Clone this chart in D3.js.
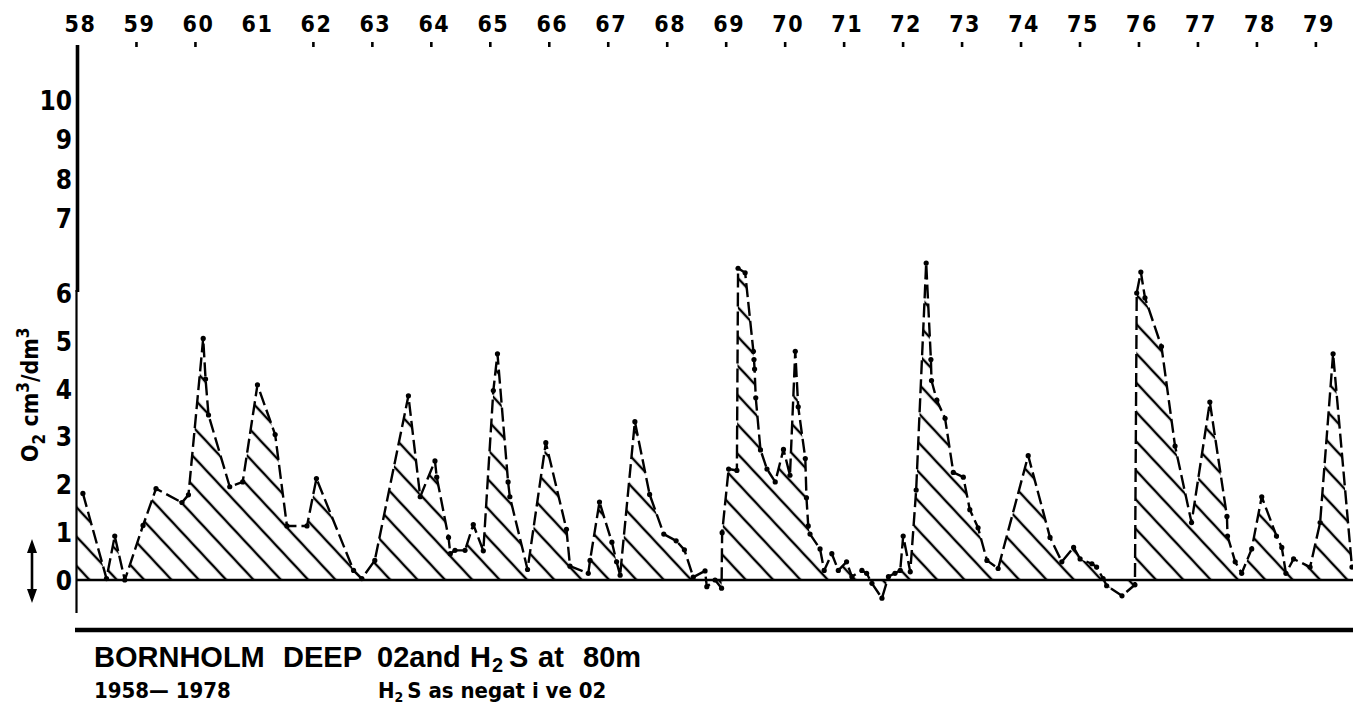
<!DOCTYPE html>
<html>
<head>
<meta charset="utf-8">
<script src="https://cdn.jsdelivr.net/npm/d3@7"></script>
<style>
  html, body { margin: 0; padding: 0; background: #fff; }
  svg { display: block; }
</style>
</head>
<body>
<svg id="chart" width="1353" height="707"></svg>
<script>
// Sampling times (decimal years) of the 80 m observations
const years = [
  1958.10, 1958.50, 1958.64, 1958.81, 1959.12, 1959.34, 1959.78, 1959.89,
  1960.14, 1960.18, 1960.23, 1960.59, 1960.81, 1961.06, 1961.36, 1961.56,
  1961.90, 1962.06, 1962.69, 1962.83, 1963.05, 1963.62, 1963.82, 1964.07,
  1964.10, 1964.30, 1964.33, 1964.41, 1964.58, 1964.72, 1964.89, 1965.06,
  1965.13, 1965.31, 1965.34, 1965.64, 1965.95, 1966.30, 1966.36, 1966.67,
  1966.70, 1966.86, 1967.07, 1967.15, 1967.21, 1967.46, 1967.71, 1967.95,
  1968.16, 1968.30, 1968.45, 1968.65, 1968.68, 1968.82, 1968.93, 1968.94,
  1969.05, 1969.19, 1969.21, 1969.33, 1969.47, 1969.48, 1969.49, 1969.51,
  1969.59, 1969.70, 1969.84, 1969.98, 1970.09, 1970.18, 1970.23, 1970.35,
  1970.37, 1970.40, 1970.43, 1970.60, 1970.67, 1970.80, 1970.91, 1971.05,
  1971.14, 1971.31, 1971.39, 1971.48, 1971.65, 1971.76, 1971.87, 1971.96,
  1972.01, 1972.13, 1972.23, 1972.40, 1972.48, 1972.49, 1972.58, 1972.72,
  1972.86, 1973.03, 1973.14, 1973.28, 1973.43, 1973.62, 1974.13, 1974.50,
  1974.70, 1974.90, 1975.01, 1975.21, 1975.29, 1975.40, 1975.46, 1975.72,
  1975.94, 1975.97, 1976.04, 1976.11, 1976.39, 1976.62, 1976.90, 1977.21,
  1977.50, 1977.51, 1977.64, 1977.75, 1977.92, 1978.09, 1978.34, 1978.43,
  1978.50, 1978.63, 1978.91, 1979.08, 1979.30, 1979.62
];

// O2 in cm3/dm3; H2S is entered as negative O2
const o2 = [
  1.81, 0.03, 0.92, 0.00, 1.14, 1.91, 1.62, 1.78,
  5.05, 4.20, 3.45, 1.95, 2.05, 4.08, 3.04, 1.13,
  1.13, 2.12, 0.20, 0.03, 0.41, 3.85, 1.74, 2.49,
  2.15, 0.89, 0.55, 0.62, 0.62, 1.16, 0.61, 3.96,
  4.73, 2.05, 1.74, 0.22, 2.87, 1.06, 0.29, 0.14,
  0.41, 1.63, 0.79, 0.38, 0.10, 3.31, 1.79, 0.96,
  0.82, 0.63, 0.06, 0.19, -0.14, 0.00, -0.17, 0.99,
  2.32, 2.29, 6.33, 6.27, 4.78, 4.61, 4.41, 3.81,
  2.72, 2.32, 2.05, 2.73, 2.19, 4.78, 3.62, 2.54,
  1.72, 1.13, 0.96, 0.65, 0.20, 0.55, 0.20, 0.38,
  0.07, 0.20, 0.14, -0.07, -0.38, 0.07, 0.14, 0.20,
  0.92, 0.17, 1.88, 6.40, 4.61, 4.17, 3.76, 3.38,
  2.25, 2.15, 1.47, 1.09, 0.41, 0.24, 2.60, 0.89,
  0.38, 0.68, 0.44, 0.34, 0.27, 0.03, -0.12, -0.33,
  -0.10, 6.00, 6.28, 5.90, 4.88, 2.80, 1.20, 3.72,
  1.33, 0.92, 0.38, 0.14, 0.65, 1.74, 0.92, 0.68,
  0.14, 0.44, 0.27, 1.20, 4.73, 0.27
];

const yearLabels = ["58","59","60","61","62","63","64","65","66","67","68",
                    "69","70","71","72","73","74","75","76","77","78","79"];
const yTicks = [0, 1, 2, 3, 4, 5, 6, 7, 8, 9, 10];

const svg = d3.select("#chart");
svg.append("rect").attr("width", 1353).attr("height", 707).attr("fill", "#fff");

const x = d3.scaleLinear().domain([1958, 1979]).range([77, 1315.4]);
// the axis is graduated more tightly above 7 than below 6
const y = d3.scaleLinear().domain([0, 6, 7, 10]).range([580, 293, 218, 100]);

const points = years.map((t, i) => ({ t, v: o2[i] }));

// diagonal hatching used for the area between the curve and zero
const defs = svg.append("defs");
defs.append("pattern")
  .attr("id", "hatch")
  .attr("patternUnits", "userSpaceOnUse")
  .attr("width", 20).attr("height", 20)
  .attr("patternTransform", "rotate(47)")
  .append("line")
  .attr("x1", -2).attr("x2", 22)
  .attr("y1", 10).attr("y2", 10)
  .attr("stroke", "#000").attr("stroke-width", 2.4);

// area starts at the axis, held level with the first observation
const areaPts = [{ t: 1958, v: o2[0] }].concat(points);
const area = d3.area()
  .x(d => x(d.t))
  .y0(y(0))
  .y1(d => y(d.v));

svg.append("path")
  .datum(areaPts)
  .attr("d", area)
  .attr("fill", "url(#hatch)")
  .attr("stroke", "none");

// zero line
svg.append("line")
  .attr("x1", x(1958)).attr("x2", 1353)
  .attr("y1", y(0)).attr("y2", y(0))
  .attr("stroke", "#000").attr("stroke-width", 2.6);

// dashed O2 curve with observation dots
const line = d3.line().x(d => x(d.t)).y(d => y(d.v));
svg.append("path")
  .datum(points)
  .attr("d", line)
  .attr("fill", "none")
  .attr("stroke", "#000")
  .attr("stroke-width", 2.4)
  .attr("stroke-dasharray", "14 5")
  .attr("stroke-linejoin", "round");

svg.append("g").selectAll("circle")
  .data(points)
  .join("circle")
  .attr("cx", d => x(d.t))
  .attr("cy", d => y(d.v))
  .attr("r", 2.6)
  .attr("fill", "#000");

// vertical axis: heavy upper part, lighter lower part
svg.append("line")
  .attr("x1", 77.5).attr("x2", 77.5).attr("y1", 45).attr("y2", 292)
  .attr("stroke", "#000").attr("stroke-width", 3.6);
svg.append("line")
  .attr("x1", 76.5).attr("x2", 76.5).attr("y1", 290).attr("y2", 613)
  .attr("stroke", "#000").attr("stroke-width", 2.2);

// y tick labels
const yAxis = svg.append("g")
  .attr("transform", "translate(76,0)")
  .call(d3.axisLeft(y).tickValues(yTicks).tickSize(0).tickPadding(4).tickFormat(d3.format("d")));
yAxis.select(".domain").remove();
yAxis.selectAll("text")
  .attr("font-family", "'Liberation Sans Narrow', 'DejaVu Sans Condensed', sans-serif")
  .attr("font-weight", "bold")
  .attr("font-size", 26)
  .attr("fill", "#000")
  .attr("dy", "0.36em");

// year labels along the top
const yearVals = yearLabels.map((s, i) => 1958 + i);
const xAxis = svg.append("g")
  .attr("transform", "translate(0,47)")
  .call(d3.axisTop(x).tickValues(yearVals).tickSize(5).tickPadding(10)
    .tickFormat((d, i) => yearLabels[i]));
xAxis.select(".domain").remove();
xAxis.selectAll(".tick line")
  .attr("stroke", "#000").attr("stroke-width", 2.6)
  .attr("opacity", d => (d === 1958 || d === 1961) ? 0 : 1);
xAxis.selectAll("text")
  .attr("font-family", "'DejaVu Sans Condensed', 'DejaVu Sans', sans-serif")
  .attr("font-weight", "bold")
  .attr("font-size", 23)
  .attr("letter-spacing", 1.5)
  .attr("fill", "#000")
  .attr("dx", 3);

// y axis title, rotated
const yt = svg.append("text")
  .attr("transform", "translate(38,462) rotate(-90)")
  .attr("font-family", "'DejaVu Sans Condensed', 'DejaVu Sans', sans-serif")
  .attr("font-weight", "bold")
  .attr("font-size", 23)
  .attr("fill", "#000");
yt.append("tspan").text("O");
yt.append("tspan").attr("font-size", 17).attr("dy", 7).text("2");
yt.append("tspan").attr("dy", -7).text(" cm");
yt.append("tspan").attr("font-size", 17).attr("dy", -9).text("3");
yt.append("tspan").attr("dy", 9).text("/dm");
yt.append("tspan").attr("font-size", 17).attr("dy", -9).text("3");

// double-headed arrow marking the sign convention
svg.append("line")
  .attr("x1", 32).attr("x2", 32).attr("y1", 548).attr("y2", 594)
  .attr("stroke", "#000").attr("stroke-width", 2.6);
svg.append("path")
  .attr("d", "M32,539 L27,553 L37,553 Z M32,603 L27,589 L37,589 Z")
  .attr("fill", "#000");

// rule under the plot
svg.append("line")
  .attr("x1", 75).attr("x2", 1353).attr("y1", 630).attr("y2", 630)
  .attr("stroke", "#000").attr("stroke-width", 4.5);

// caption
const cap1 = svg.append("text")
  .attr("y", 667)
  .attr("font-family", "'Liberation Sans', Arial, sans-serif")
  .attr("font-weight", "bold")
  .attr("font-size", 29)
  .attr("fill", "#000");
cap1.append("tspan").attr("x", 94).text("BORNHOLM");
cap1.append("tspan").attr("x", 283).text("DEEP");
cap1.append("tspan").attr("x", 377).text("02and");
cap1.append("tspan").attr("x", 470).text("H");
cap1.append("tspan").attr("font-size", 20).attr("dy", 5).attr("dx", 1).text("2");
cap1.append("tspan").attr("dy", -5).attr("dx", 6).text("S");
cap1.append("tspan").attr("x", 538).text("at");
cap1.append("tspan").attr("x", 583).text("80m");

const cap2 = svg.append("text")
  .attr("y", 698)
  .attr("font-family", "'DejaVu Sans Condensed', 'DejaVu Sans', sans-serif")
  .attr("font-weight", "bold")
  .attr("font-size", 22)
  .attr("fill", "#000");
cap2.append("tspan").attr("x", 94).text("1958\u2014 1978");
cap2.append("tspan").attr("x", 378).text("H");
cap2.append("tspan").attr("font-size", 14).attr("dy", 4).text("2");
cap2.append("tspan").attr("dy", -4).attr("dx", 4).text("S as negat i ve 02");
</script>
</body>
</html>
